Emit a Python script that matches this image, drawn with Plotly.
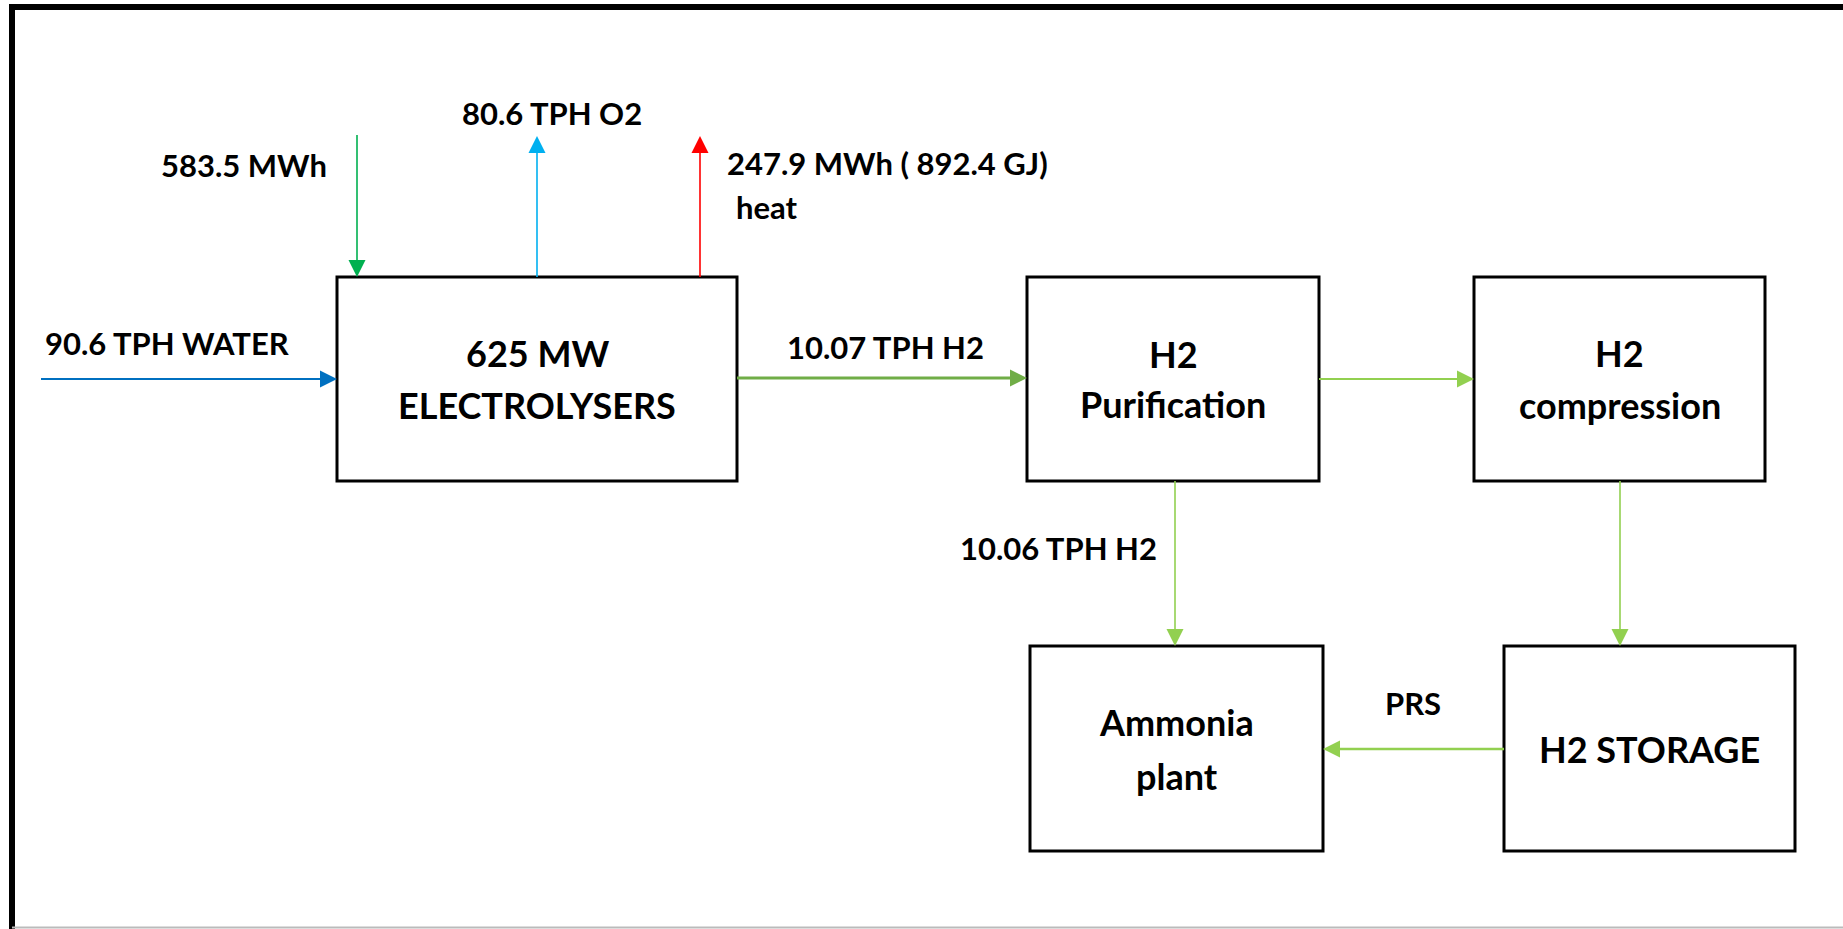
import math
import plotly.graph_objects as go

# ---------------- data ----------------
node_ids = ["electrolysers", "purification", "compression", "ammonia", "storage"]
node_lines = [["625 MW", "ELECTROLYSERS"], ["H2", "Purification"], ["H2", "compression"],
              ["Ammonia", "plant"], ["H2 STORAGE"]]

flow_ids = ["water", "power", "oxygen", "heat", "h2_out", "h2_to_comp", "h2_to_nh3",
            "comp_to_storage", "prs"]
flow_values = [90.6, 583.5, 80.6, 247.9, 10.07, None, 10.06, None, None]
flow_units = ["TPH WATER", "MWh", "TPH O2", "MWh", "TPH H2", "", "TPH H2", "", ""]
heat_gj = 892.4
extra_labels = ["heat", "PRS"]

# ---------------- geometry (diagram units = pixels, y downward) ----------------
W, H = 1843, 929
box_geom = {
    "electrolysers": (337, 277, 737, 481),
    "purification": (1027, 277, 1319, 481),
    "compression": (1474, 277, 1765, 481),
    "ammonia": (1030, 646, 1323, 851),
    "storage": (1504, 646, 1795, 851),
}
line_gap = {"electrolysers": 26, "purification": 25, "compression": 26, "ammonia": 27,
            "storage": 0}
# arrows: (x0, y0, x1, y1, colour, width)
arrow_geom = {
    "water": (41, 379, 337, 379, "#0070C0", 2.2),
    "power": (357, 135, 357, 277, "#00B050", 1.6),
    "oxygen": (537, 277, 537, 136, "#00B0F0", 1.6),
    "heat": (700, 277, 700, 136, "#FF0000", 1.6),
    "h2_out": (737, 378, 1027, 378, "#70AD47", 3.2),
    "h2_to_comp": (1319, 379, 1474, 379, "#92D050", 2.2),
    "h2_to_nh3": (1175, 481, 1175, 646, "#92D050", 1.6),
    "comp_to_storage": (1620, 481, 1620, 646, "#92D050", 1.6),
    "prs": (1504, 749, 1323, 749, "#92D050", 2.4),
}

FONT = "Lato"
fig = go.Figure()
fig.add_trace(go.Scatter(x=[0, W], y=[0, H], mode="markers",
                         marker=dict(opacity=0), hoverinfo="skip", showlegend=False))

shapes = []
# outer frame
shapes.append(dict(type="line", xref="x", yref="y", x0=12, y0=4, x1=12, y1=H,
                   line=dict(color="black", width=6)))
shapes.append(dict(type="line", xref="x", yref="y", x0=9, y0=7, x1=W, y1=7,
                   line=dict(color="black", width=6)))
shapes.append(dict(type="line", xref="x", yref="y", x0=12, y0=927.5, x1=W, y1=927.5,
                   line=dict(color="#BBBBBB", width=2)))

# boxes
for nid in node_ids:
    x0, y0, x1, y1 = box_geom[nid]
    shapes.append(dict(type="rect", xref="x", yref="y", x0=x0, y0=y0, x1=x1, y1=y1,
                       line=dict(color="black", width=3), fillcolor="white", layer="above"))

# arrows
HL, HW = 17, 17
for fid in flow_ids:
    x0, y0, x1, y1, col, lw = arrow_geom[fid]
    dx, dy = x1 - x0, y1 - y0
    L = math.hypot(dx, dy)
    ux, uy = dx / L, dy / L
    bx, by = x1 - ux * HL, y1 - uy * HL
    shapes.append(dict(type="line", xref="x", yref="y", x0=x0, y0=y0, x1=bx, y1=by,
                       line=dict(color=col, width=lw)))
    px, py = -uy, ux
    p1 = (bx + px * HW / 2, by + py * HW / 2)
    p2 = (bx - px * HW / 2, by - py * HW / 2)
    path = f"M {x1},{y1} L {p1[0]},{p1[1]} L {p2[0]},{p2[1]} Z"
    shapes.append(dict(type="path", xref="x", yref="y", path=path,
                       fillcolor=col, line=dict(color=col, width=0)))

annotations = []
# box labels (one annotation per line for exact line spacing)
for nid, lines in zip(node_ids, node_lines):
    x0, y0, x1, y1 = box_geom[nid]
    cx, cy = (x0 + x1) / 2, (y0 + y1) / 2
    n = len(lines)
    g = line_gap[nid]
    for i, t in enumerate(lines):
        yy = cy + (i - (n - 1) / 2) * 2 * g
        annotations.append(dict(x=cx, y=yy, xref="x", yref="y",
                                text=t, showarrow=False, xanchor="center", yanchor="middle",
                                font=dict(family=FONT, size=36, color="black", weight="bold")))

def fmt(v):
    return f"{v:g}" if v is not None else ""

val = dict(zip(flow_ids, flow_values))
unit = dict(zip(flow_ids, flow_units))
label_pos = {
    "water": (43, 343, "left"),
    "power": (329, 165, "right"),
    "oxygen": (552, 113, "center"),
    "heat": (725, 163, "left"),
    "h2_out": (885, 347, "center"),
    "h2_to_nh3": (1159, 548, "right"),
}
flow_text = {
    "water": f"{fmt(val['water'])} {unit['water']}",
    "power": f"{fmt(val['power'])} {unit['power']}",
    "oxygen": f"{fmt(val['oxygen'])} {unit['oxygen']}",
    "heat": f"{fmt(val['heat'])} {unit['heat']} ( {heat_gj} GJ)",
    "h2_out": f"{fmt(val['h2_out'])} {unit['h2_out']}",
    "h2_to_nh3": f"{fmt(val['h2_to_nh3'])} {unit['h2_to_nh3']}",
}
for fid, (x, y, anc) in label_pos.items():
    annotations.append(dict(x=x, y=y, xref="x", yref="y", text=flow_text[fid],
                            showarrow=False, xanchor=anc, yanchor="middle",
                            font=dict(family=FONT, size=31, color="black", weight="bold")))
extra_pos = [(734, 207, "left"), (1413, 703, "center")]
for t, (x, y, anc) in zip(extra_labels, extra_pos):
    annotations.append(dict(x=x, y=y, xref="x", yref="y", text=t, showarrow=False,
                            xanchor=anc, yanchor="middle",
                            font=dict(family=FONT, size=31, color="black", weight="bold")))

fig.update_layout(
    width=W, height=H, margin=dict(l=0, r=0, t=0, b=0),
    paper_bgcolor="white", plot_bgcolor="white",
    xaxis=dict(range=[0, W], visible=False, fixedrange=True),
    yaxis=dict(range=[H, 0], visible=False, fixedrange=True),
    shapes=shapes, annotations=annotations, showlegend=False,
)
fig.write_html("out.html", config={"displayModeBar": False},
               post_script="document.body.style.margin='0';document.body.style.overflow='hidden';")
